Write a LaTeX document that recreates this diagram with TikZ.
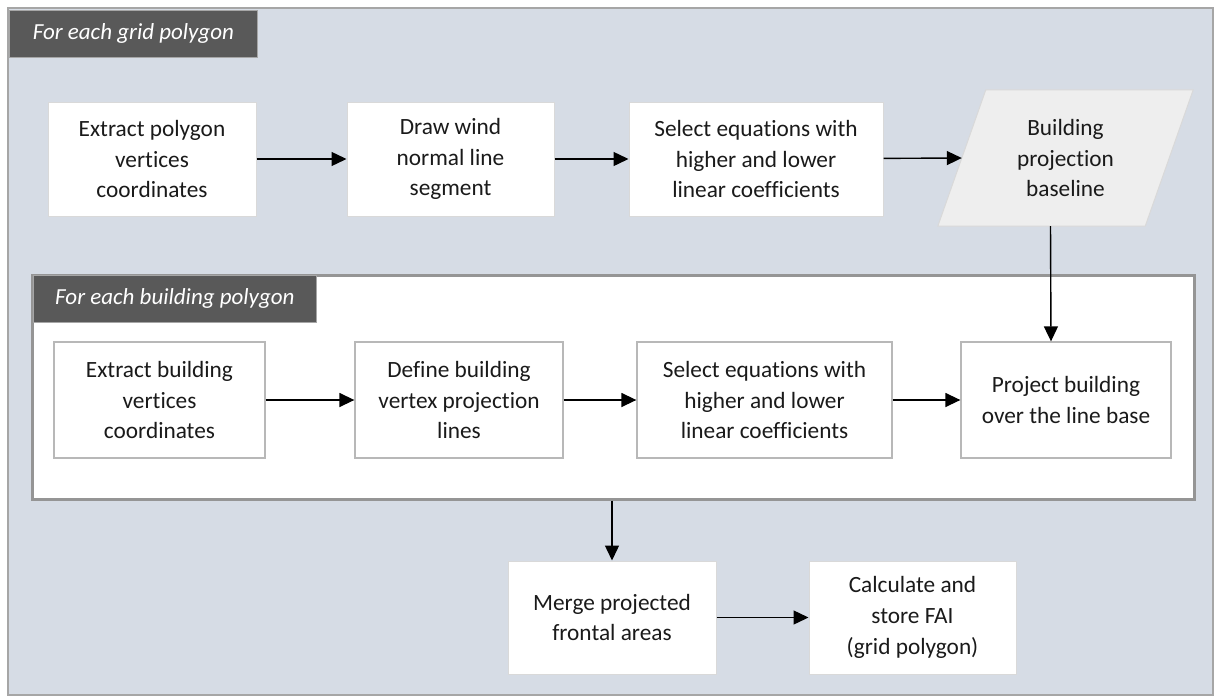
\documentclass[tikz,border=0pt]{standalone}
\usepackage{fontspec}
\setmainfont{Carlito}[Ligatures=NoCommon]
\usetikzlibrary{arrows.meta,calc}

\definecolor{panel}{HTML}{D6DCE5}
\definecolor{framegray}{HTML}{A6A6A6}
\definecolor{tagfill}{HTML}{595959}
\definecolor{boxline}{HTML}{D9D9D9}
\definecolor{parafill}{HTML}{EEEEEE}
\definecolor{txtcol}{HTML}{1A1A1A}

\pgfdeclarelayer{back}
\pgfdeclarelayer{mid}
\pgfsetlayers{back,mid,main}

\begin{document}
\begin{tikzpicture}[
  x=1pt, y=-1pt,
  txt/.style={font=\fontsize{23.3pt}{30.7pt}\selectfont, text=txtcol},
  stepbox/.style={txt, rectangle, fill=white, draw=boxline, line width=1pt,
    minimum height=114pt, align=center, inner sep=2pt},
  innerbox/.style={stepbox, draw=boxline!85!black, line width=1.3pt, minimum height=116pt},
  tag/.style={rectangle, fill=tagfill, draw=framegray, line width=0.8pt, text=white,
    font=\fontsize{23pt}{28pt}\selectfont\itshape, minimum height=47pt,
    inner sep=0pt, anchor=north west},
  frame/.style={rectangle, inner sep=0pt, anchor=north west},
  arr/.style={-{Triangle[length=15pt,width=14pt]}, line width=1.4pt, black},
]
\useasboundingbox (0,0) rectangle (1215,696);

% outer loop panel and nested loop panel
\begin{pgfonlayer}{back}
  \node (outer) [frame, fill=panel, draw=framegray, line width=2pt,
    minimum width=1205pt, minimum height=687pt] at (7,7) {};
  \node (inner) [frame, fill=white, draw=framegray!90!black, line width=2.5pt,
    minimum width=1162pt, minimum height=224pt] at (31,274) {};
\end{pgfonlayer}

\node (tagouter) [tag, minimum width=248pt] at (9,10) {For each grid polygon};
\node (taginner) [tag, minimum width=283pt] at (33,275) {For each building polygon};

% grid polygon steps
\node (b1) [stepbox, minimum width=208pt] at (152,159)
  {Extract polygon\\vertices\\coordinates};
\node (b2) [stepbox, minimum width=207pt] at (450.5,159)
  {Draw wind\\normal line\\segment};
\node (b3) [stepbox, minimum width=254pt] at (756,159)
  {Select equations with\\higher and lower\\linear coefficients};
\node (para) [txt, rectangle, align=center, minimum width=207pt, minimum height=136pt]
  at (1065.5,158) {Building\\projection\\baseline};
\begin{pgfonlayer}{mid}
  \fill[parafill, draw=boxline, line width=1pt]
    ($(para.north west)+(24,0)$) -- ($(para.north east)+(24,0)$) --
    ($(para.south east)+(-24,0)$) -- ($(para.south west)+(-24,0)$) -- cycle;
\end{pgfonlayer}

% building polygon steps
\node (c1) [innerbox, minimum width=211pt] at (159.5,400)
  {Extract building\\vertices\\coordinates};
\node (c2) [innerbox, minimum width=208pt] at (459,400)
  {Define building\\vertex projection\\lines};
\node (c3) [innerbox, minimum width=255pt] at (764.5,400)
  {Select equations with\\higher and lower\\linear coefficients};
\node (c4) [innerbox, minimum width=210pt] at (1066,400)
  {Project building\\over the line base};

% final steps
\node (m) [stepbox, minimum width=208pt, minimum height=113pt] at (612,617.5)
  {Merge projected\\frontal areas};
\node (f) [stepbox, minimum width=207pt, minimum height=113pt] at (912.5,617.5)
  {Calculate and\\store FAI\\(grid polygon)};

% connectors
\draw[arr] (b1) -- (b2);
\draw[arr] (b2) -- (b3);
\draw[arr] (b3) -- (para.west);
\draw[arr] ([xshift=-15pt]para.south) -- ([xshift=-15pt]c4.north);
\draw[arr] (c1) -- (c2);
\draw[arr] (c2) -- (c3);
\draw[arr] (c3) -- (c4);
\draw[arr] (inner.south -| m.north) -- (m.north);
\draw[arr] (m) -- (f);
\end{tikzpicture}
\end{document}
